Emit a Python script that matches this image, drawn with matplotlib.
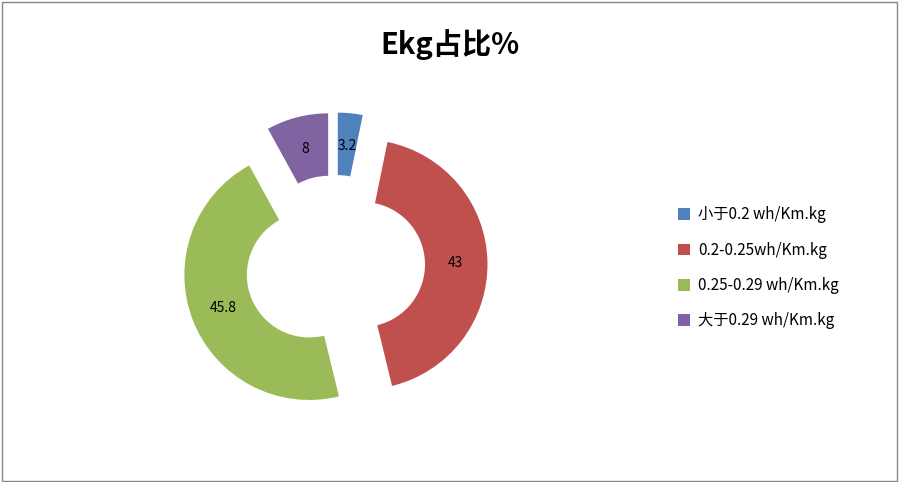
import matplotlib
matplotlib.use("Agg")
import matplotlib.pyplot as plt
from matplotlib.patches import Rectangle

plt.rcParams['font.family'] = ['Noto Sans CJK SC', 'DejaVu Sans']

categories = ['小于0.2 wh/Km.kg', '0.2-0.25wh/Km.kg', '0.25-0.29 wh/Km.kg', '大于0.29 wh/Km.kg']
values = [3.2, 43, 45.8, 8]
colors = ['#4F81BD', '#C0504D', '#9BBB59', '#8064A2']

fig = plt.figure(figsize=(9, 4.82), dpi=100)
fig.patches.append(Rectangle((0.002, 0.003), 0.995, 0.993, transform=fig.transFigure,
                             fill=False, edgecolor='#888888', linewidth=1))
ax = fig.add_axes([(335 - 190) / 900, (217 - 190) / 482, 380 / 900, 380 / 482])
wedges, texts = ax.pie(values, colors=colors, startangle=90, counterclock=False,
                       explode=[0.22] * 4, labels=[f'{v:g}' for v in values],
                       labeldistance=0.74, wedgeprops=dict(width=0.5, linewidth=0),
                       textprops=dict(fontsize=10, ha='center', va='center'))
ax.set_xlim(-1.52, 1.52)
ax.set_ylim(-1.52, 1.52)
ax.set_aspect('equal')

fig.text(0.5, 0.907, 'Ekg占比%', ha='center', va='center', fontsize=21, fontweight='bold')
fig.legend(wedges, categories, loc='center left', bbox_to_anchor=(0.738, 0.444),
           frameon=False, fontsize=11, handlelength=0.8, handleheight=0.8,
           handletextpad=0.5, labelspacing=1.2)
fig.savefig('out.png', dpi=100)
